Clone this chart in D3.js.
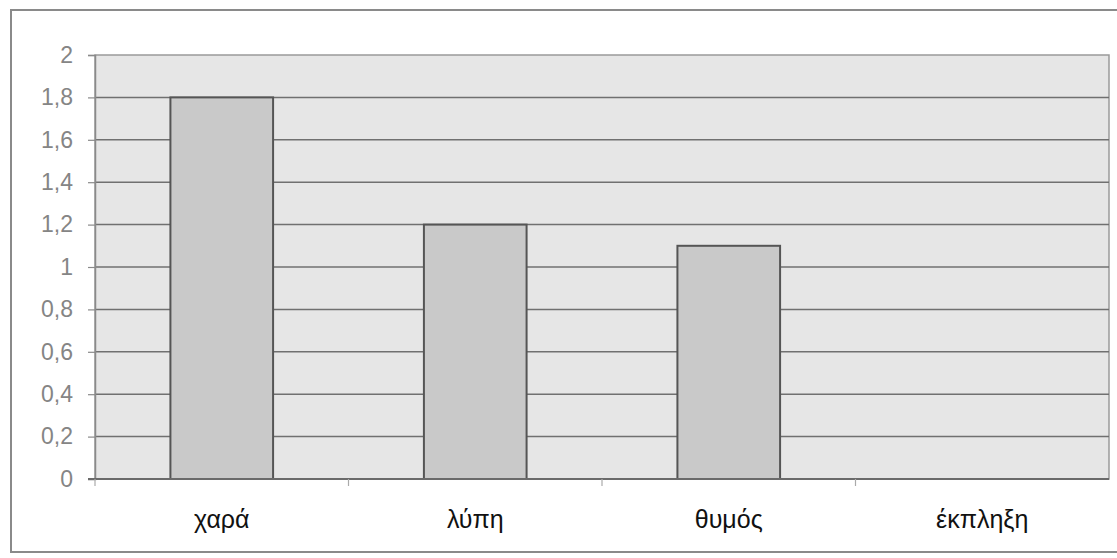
<!DOCTYPE html>
<html>
<head>
<meta charset="utf-8">
<script src="https://cdn.jsdelivr.net/npm/d3@7"></script>
<style>
  html, body { margin: 0; padding: 0; background: #fff; }
  svg { display: block; }
</style>
</head>
<body>
<svg id="chart" width="1117" height="558"></svg>
<script>
// Emotion categories and their mean scores
const categories = ["χαρά", "λύπη", "θυμός", "έκπληξη"];
const values = [1.8, 1.2, 1.1, 0];
const yTicks = [0, 0.2, 0.4, 0.6, 0.8, 1, 1.2, 1.4, 1.6, 1.8, 2];

const svg = d3.select("#chart");
const W = 1117, H = 558;
const margin = { left: 95, right: 8, top: 55, bottom: 79 };
const plotW = W - margin.left - margin.right;
const plotH = H - margin.top - margin.bottom;

// outer chart frame
svg.append("rect")
  .attr("x", 11).attr("y", 10)
  .attr("width", 1120).attr("height", 542)
  .attr("fill", "#fff")
  .attr("stroke", "#8a8a8a").attr("stroke-width", 2);

const g = svg.append("g").attr("transform", `translate(${margin.left},${margin.top})`);

const x = d3.scaleBand().domain(categories).range([0, plotW]).paddingInner(0.595).paddingOuter(0.2975);
const xBand = d3.scaleBand().domain(categories).range([0, plotW]);
const y = d3.scaleLinear().domain([0, 2]).range([plotH, 0]);

// plot area background
g.append("rect")
  .attr("x", 0).attr("y", 0)
  .attr("width", plotW).attr("height", plotH)
  .attr("fill", "#e6e6e6")
  .attr("stroke", "#9a9a9a").attr("stroke-width", 1.5);

// horizontal gridlines
g.append("g").selectAll("line")
  .data(yTicks.filter(d => d > 0 && d < 2))
  .join("line")
  .attr("x1", 0).attr("x2", plotW)
  .attr("y1", d => y(d)).attr("y2", d => y(d))
  .attr("stroke", "#707070").attr("stroke-width", 1.5);

// bars
g.append("g").selectAll("rect")
  .data(values.map((v, i) => ({ c: categories[i], v })).filter(d => d.v > 0))
  .join("rect")
  .attr("x", d => x(d.c))
  .attr("y", d => y(d.v))
  .attr("width", x.bandwidth())
  .attr("height", d => y(0) - y(d.v))
  .attr("fill", "#c9c9c9")
  .attr("stroke", "#555").attr("stroke-width", 2);

// y axis
const yAxis = d3.axisLeft(y)
  .tickValues(yTicks)
  .tickSize(7)
  .tickPadding(15)
  .tickFormat(d => d3.format("")(d).replace(".", ","));
const ya = g.append("g").call(yAxis);
ya.select(".domain").attr("stroke", "#8a8a8a").attr("stroke-width", 1.5);
ya.selectAll(".tick line").attr("stroke", "#8a8a8a").attr("stroke-width", 1.2);
ya.selectAll(".tick text")
  .attr("fill", "#858585")
  .style("font-family", "Liberation Sans, Arial, sans-serif")
  .style("font-size", "23px");

// x axis (category ticks at band boundaries)
const xa = g.append("g").attr("transform", `translate(0,${plotH})`);
xa.append("line")
  .attr("x1", -7).attr("x2", plotW)
  .attr("y1", 0).attr("y2", 0)
  .attr("stroke", "#6a6a6a").attr("stroke-width", 2);
xa.selectAll("line.sep")
  .data(categories)
  .join("line")
  .attr("class", "sep")
  .attr("x1", d => xBand(d)).attr("x2", d => xBand(d))
  .attr("y1", 0).attr("y2", 7)
  .attr("stroke", "#aaa").attr("stroke-width", 1.2);
xa.selectAll("text")
  .data(categories)
  .join("text")
  .attr("x", d => xBand(d) + xBand.bandwidth() / 2)
  .attr("y", 49)
  .attr("text-anchor", "middle")
  .attr("fill", "#111")
  .style("font-family", "Liberation Sans, Arial, sans-serif")
  .style("font-size", "25px")
  .text(d => d);
</script>
</body>
</html>
